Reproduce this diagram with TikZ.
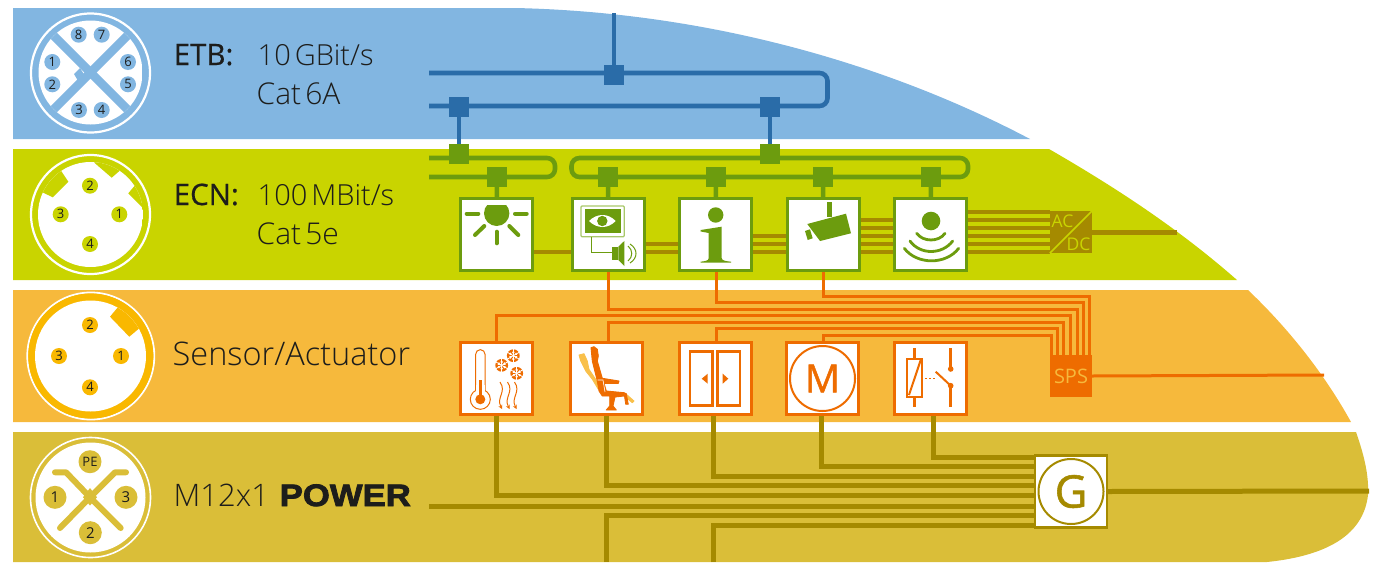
\documentclass[tikz,border=0pt]{standalone}
\usepackage{fontspec}
\usetikzlibrary{arrows.meta}
\setmainfont{Open Sans}
\newfontfamily\lightf{Open Sans Light}
\newfontfamily\boldishf[FakeBold=0.6]{Open Sans}
\newfontfamily\heavyf[FakeBold=1.2]{Open Sans}
\newfontfamily\powerf[FakeBold=2.5,FakeStretch=1.12]{Liberation Sans Bold}
\definecolor{etbbg}{HTML}{82B6E1}
\definecolor{ecnbg}{HTML}{C9D400}
\definecolor{senbg}{HTML}{F6B93C}
\definecolor{powbg}{HTML}{DABE38}
\definecolor{bluew}{HTML}{2A6CA8}
\definecolor{greenw}{HTML}{6C9C0E}
\definecolor{greenl}{HTML}{A9C86B}
\definecolor{orw}{HTML}{EE6C00}
\definecolor{orl}{HTML}{F9C04A}
\definecolor{brw}{HTML}{A58A00}
\definecolor{yel}{HTML}{F9B800}
\definecolor{txt}{HTML}{1D1D1B}
\tikzset{
  lbl/.style={anchor=base west,inner sep=0pt,text=txt,font=\fontsize{29}{32}\selectfont\lightf},
  lblb/.style={anchor=base west,inner sep=0pt,text=txt,font=\fontsize{29.5}{32}\selectfont\boldishf},
  pin/.style={circle,inner sep=0pt,minimum size=16pt,font=\fontsize{13}{14}\selectfont,text=txt},
  bigpin/.style={pin,minimum size=23pt,font=\fontsize{15}{16}\selectfont},
  tap/.style={rectangle,inner sep=0pt,minimum size=20pt},
  dev/.style={rectangle,draw,fill=white,line width=2.6pt,inner sep=0pt,minimum size=72pt},
  ecndev/.style={dev,draw=greenw},
  sendev/.style={dev,draw=orw},
  bluebus/.style={draw=bluew,line width=4.6pt},
  greenbus/.style={draw=greenw,line width=4.6pt},
  orwire/.style={draw=orw,line width=3pt},
  brw1/.style={draw=brw,line width=3.4pt},
  brw2/.style={draw=brw,line width=5pt},
  icl/.style={draw=greenw,line cap=round,line width=4pt},
  orl1/.style={draw=orw,line width=2pt},
}
\newcommand{\snowflk}[2]{%
  \fill[orw] (#1,#2) circle[radius=6.4];
  \fill[white] (#1,#2) circle[radius=4.2];
  \foreach \a in {0,60,120}{
    \draw[orw,line width=1.1pt] ([shift={(\a:-5.5)}]#1,#2) -- ([shift={(\a:5.5)}]#1,#2);}
  \foreach \a in {30,90,150}{
    \draw[white,line width=.8pt] ([shift={(\a:-7)}]#1,#2) -- ([shift={(\a:7)}]#1,#2);}
}
\newcommand{\heatw}[1]{%
  \draw[orw,line width=1pt,-{Stealth[length=4pt,width=4pt]}] (#1,382) .. controls (#1+7,392) and (#1-4,397) .. (#1+2,409);
}
\begin{document}
\begin{tikzpicture}[x=1pt,y=-1pt]
\useasboundingbox (0,0) rectangle (1375,562);
% bands
\fill[etbbg] (13,8) -- (515,8) .. controls (700,12) and (880,60) .. (1030,139) -- (13,139) -- cycle;
\fill[ecnbg] (13,149) -- (1049,149) .. controls (1120,190) and (1180,230) .. (1237,280) -- (13,280) -- cycle;
\fill[senbg] (13,290) -- (1248,290) .. controls (1290,330) and (1325,375) .. (1351,422) -- (13,422) -- cycle;
\fill[powbg] (13,432) -- (1356,432) .. controls (1364,455) and (1369,475) .. (1368,495) .. controls (1364,530) and (1335,555) .. (1267,562) -- (13,562) -- cycle;

% ETB connector
\draw[white,line width=2.2pt] (90.5,73) circle[radius=59.5];
\begin{scope}
\clip (90.5,72.5) circle[radius=52];
\fill[white] (38,20) rectangle (143,125);
\draw[etbbg,line width=8.5pt] (50,32) -- (131,113);
\draw[etbbg,line width=8.5pt] (131,32) -- (50,113);
\fill[etbbg] (80,68) -- (74,74) -- (77.5,80) -- (85,76) -- cycle;
\end{scope}
\foreach \n/\x/\y in {8/78.7/34.7,7/101.7/34.7,1/52.3/62,2/52.3/84.3,6/128/62,5/128/84.3,3/79/110,4/101.7/110}
  \node[pin,fill=etbbg] (etbp\n) at (\x,\y) {\n};

% ECN connector
\draw[white,line width=2.2pt] (90.5,214.5) circle[radius=59.5];
\begin{scope}
\clip (90.5,214.5) circle[radius=52.5];
\fill[white] (38,162) rectangle (143,267);
\fill[ecnbg] (61.7,171.7) -- (68.3,181.7) -- (52.7,197.3) -- (43.3,192.7) -- (35,180) -- (55,160) -- cycle;
\fill[ecnbg] (95,163.3) -- (111.7,177.7) -- (121.7,169) -- (118,155) -- (90,155) -- cycle;
\fill[ecnbg] (136.7,183.3) -- (128.3,193.3) -- (143.3,208.3) -- (150,200) -- (145,180) -- cycle;
\end{scope}
\foreach \n/\x/\y in {2/90/185.7,3/60.7/214.3,1/119.3/214.3,4/90/244}
  \node[pin,fill=ecnbg] (ecnp\n) at (\x,\y) {\n};

% Sensor connector
\draw[white,line width=1.8pt] (90.8,356) circle[radius=63.5];
\fill[yel] (90.8,356) circle[radius=62.5];
\begin{scope}
\clip (90.5,356) circle[radius=55.5];
\fill[white] (35,300) rectangle (146,412);
\fill[yel] (118.3,306.7) -- (110,316.7) -- (129.3,336.7) -- (139.3,328.3) -- (145,310) -- (125,295) -- cycle;
\end{scope}
\foreach \n/\x/\y in {2/90/325,3/59/356,1/121/356,4/90/387.3}
  \node[pin,fill=yel] (senp\n) at (\x,\y) {\n};

% Power connector
\draw[white,line width=1.6pt] (90.5,497.5) circle[radius=60];
\fill[white] (90.5,497.5) circle[radius=55];
\draw[powbg,line width=6pt,line cap=round,line join=round] (55,472.3) -- (66,472.3) -- (90,497.3) -- (120.7,528);
\draw[powbg,line width=6pt,line cap=round,line join=round] (126,472.3) -- (115,472.3) -- (90,497.3) -- (60,528);
\fill[powbg] (83,497.3) -- (90,488) -- (97,497.3) -- (90,505.5) -- cycle;
\node[bigpin,fill=powbg,font=\fontsize{13}{14}\selectfont] (powpe) at (90,461.7) {PE};
\node[bigpin,fill=powbg] (powp1) at (55,497.3) {1};
\node[bigpin,fill=powbg] (powp3) at (126,497.3) {3};
\node[bigpin,fill=powbg] (powp2) at (90.3,532.7) {2};

% Labels
\node[lblb] (t1) at (173.5,65) {ETB:};
\node[lbl] (t2) at (257.5,65) {10\kern4pt GBit/s};
\node[lbl,font=\fontsize{30}{32}\selectfont\lightf] (t3) at (256.5,104) {Cat\kern4pt 6A};
\node[lblb] (t4) at (173.5,205) {ECN:};
\node[lbl] (t5) at (257.5,205) {100\kern4pt MBit/s};
\node[lbl,font=\fontsize{30}{32}\selectfont\lightf] (t6) at (256.5,244) {Cat\kern4pt 5e};
\node[lbl,font=\fontsize{32.5}{34}\selectfont\lightf] (t7) at (172.5,365) {Sensor/Actuator};
\node[lbl,font=\fontsize{31}{34}\selectfont\lightf] (t8) at (173.5,506) {M12x1};
\node[anchor=base west,inner sep=0pt,text=txt,font=\fontsize{31}{34}\selectfont\powerf] (t9) at (279.5,506) {POWER};

% free ends
\coordinate (bbT) at (614,13);
\coordinate (bb1) at (429,73);
\coordinate (bbR) at (827.5,73);
\coordinate (bbS) at (827.5,106);
\coordinate (bb2) at (429,106);
\coordinate (gb1) at (429,158);
\coordinate (gbR1) at (555,158);
\coordinate (gbR2) at (555,177);
\coordinate (gb2) at (429,177);
\coordinate (gl1) at (968,158);
\coordinate (gl2) at (968,177);
\coordinate (gl3) at (571.5,177);
\coordinate (gl4) at (571.5,158);
\coordinate (acout) at (1177,232);
\coordinate (spsout) at (1324,375);
\coordinate (gout) at (1369,491);
\coordinate (pwrin) at (429,506);
\coordinate (pw1) at (606,562);
\coordinate (pw2) at (713,562);

% Nodes: taps
\node[tap,fill=bluew] (bt) at (614,75) {};
\node[tap,fill=bluew] (bl) at (459,107) {};
\node[tap,fill=bluew] (br) at (770,107) {};
\node[tap,fill=greenw] (gtl) at (459,154) {};
\node[tap,fill=greenw] (gtr) at (770,154) {};
\node[tap,fill=greenw] (g1) at (497,177) {};
\node[tap,fill=greenw] (g2) at (608,177) {};
\node[tap,fill=greenw] (g3) at (716,177) {};
\node[tap,fill=greenw] (g4) at (823,177) {};
\node[tap,fill=greenw] (g5) at (931,177) {};

% Nodes: devices
\node[ecndev] (e1) at (496.5,234.5) {};
\node[ecndev] (e2) at (608.5,234.5) {};
\node[ecndev] (e3) at (715.5,234.5) {};
\node[ecndev] (e4) at (823.5,234.5) {};
\node[ecndev] (e5) at (930.5,234.5) {};
\node[sendev] (s1) at (496.5,378.5) {};
\node[sendev] (s2) at (606.5,378.5) {};
\node[sendev] (s3) at (715.5,378.5) {};
\node[sendev] (s4) at (822.5,378.5) {};
\node[sendev] (s5) at (930.5,378.5) {};
\node[rectangle,fill=brw,minimum width=42pt,minimum height=42pt,inner sep=0pt] (acdc) at (1071,232) {};
\node[rectangle,fill=orw,minimum width=42pt,minimum height=42pt,inner sep=0pt,text=senbg,font=\fontsize{20}{20}\selectfont] (sps) at (1071,376) {SPS};
\node[rectangle,draw=brw,fill=white,line width=2.2pt,inner sep=0pt,minimum width=72pt,minimum height=72pt] (gen) at (1071,491.5) {};

% ETB bus
\draw[bluebus,rounded corners=8pt] (bb1) -- (bbR) -- (bbS) -- (bb2);
\draw[bluebus] (bbT) -- (bt);
\draw[bluebus] (bl) -- (gtl);
\draw[bluebus] (br) -- (gtr);
% ECN bus
\draw[greenbus,rounded corners=8pt] (gb1) -- (gbR1) -- (gbR2) -- (gb2);
\draw[greenbus,rounded corners=8pt] (gl1) -- (gl2) -- (gl3) -- (gl4) -- cycle;
\foreach \i in {1,...,5} \draw[greenbus] (g\i) -- (e\i);
% brown wires in ECN
\draw[brw1] (e1.east |- 0,252) -- (e2.west |- 0,252);
\foreach \y in {244,252} \draw[brw1] (e2.east |- 0,\y) -- (e3.west |- 0,\y);
\foreach \y in {236,244,252} \draw[brw1] (e3.east |- 0,\y) -- (e4.west |- 0,\y);
\foreach \y in {220,228,236,244,252} \draw[brw1] (e4.east |- 0,\y) -- (e5.west |- 0,\y);
\foreach \y in {212,220,228,236,244,252} \draw[brw1] (e5.east |- 0,\y) -- (acdc.west |- 0,\y);
\draw[brw2] (acdc.east) -- (acout);
% AC/DC face
\draw[ecnbg,line width=1.6pt] (acdc.north east) -- (acdc.south west);
\node[text=ecnbg,inner sep=0pt,font=\fontsize{17.5}{17}\selectfont] (aclab) at (1062.5,221.5) {AC};
\node[text=ecnbg,inner sep=0pt,font=\fontsize{17.5}{17}\selectfont] (dclab) at (1078.5,244.5) {DC};
% orange wires
\foreach \d/\a/\wx/\y/\x in {e4/south/823/296/1089,e3/south/716/302/1083,e2/south/608/309/1077,s1/north/496/315/1070,s2/north/608/322/1063,s3/north/716/328/1057,s4/north/823/335/1051}
  \draw[orwire] (\d.\a -| \wx,0) -- (\wx,\y) -- (\x,\y) -- (sps.north -| \x,0);
\draw[orwire] (sps.east) -- (spsout);
% brown wires in Power
\foreach \d/\wx/\y in {s1/496/495,s2/606/485,s3/713/476,s4/821/466,s5/933/457}
  \draw[brw2] (\d.south -| \wx,0) |- (gen.west |- 0,\y);
\draw[brw2] (pwrin) -- (gen.west |- pwrin);
\draw[brw2] (pw1) |- (gen.west |- 0,515);
\draw[brw2] (pw2) |- (gen.west |- 0,525);
\draw[brw2] (gen.east) -- (gout);
\node[circle,draw=brw,line width=2pt,minimum size=65pt,inner sep=0pt,text=brw,font=\fontsize{45}{45}\selectfont\heavyf] (glab) at (gen) {G};
\node[circle,draw=orw,line width=2pt,minimum size=65pt,inner sep=0pt,text=orw,font=\fontsize{39}{39}\selectfont\heavyf] (mlab) at (s4) {M};

% icon: sun
\begin{scope}
\clip (470,205.7) rectangle (525,240);
\fill[greenw] (496.7,213.3) circle[radius=12.7];
\end{scope}
\draw[icl] (466.7,213.7) -- (478.3,213.7);
\draw[icl] (515,213.7) -- (526.7,213.7);
\draw[icl] (475,235) -- (484.3,226);
\draw[icl] (518.3,235) -- (509.3,226);
\draw[icl] (496.7,231.7) -- (496.7,243.3);

% icon: monitor and speaker
\draw[greenl,line width=1.3pt,rounded corners=1pt] (581,206) rectangle (624.3,236.7);
\fill[greenw] (584.7,208.7) rectangle (621.3,233.3);
\fill[white] (589,221) .. controls (597,213) and (608,213) .. (615.7,221) .. controls (608,229) and (597,229) .. (589,221) -- cycle;
\fill[greenw] (602.3,221) circle[radius=5.2];
\draw[greenw,line width=1pt] (591.3,236.7) -- (591.3,252.7) -- (612.3,252.7);
\fill[greenw] (612.3,246.7) rectangle (618.3,260);
\fill[greenw] (618.3,246.7) -- (624.3,241) -- (624.3,266) -- (618.3,260) -- cycle;
\draw[greenw,line width=1pt] (628,246) .. controls (633,250) and (633,257) .. (628,261);
\draw[greenw,line width=1pt] (630,244) .. controls (638,249) and (638,258) .. (630,263);

% icon: info
\fill[greenw] (715.7,215) circle[radius=7.7];
\fill[greenw] (700.7,230) -- (721.7,226.7) -- (721.7,258) .. controls (722,261) and (726,261) .. (731,261.7) -- (731,262.7) -- (700.7,262.7) -- (700.7,261.7) .. controls (705,261) and (708.7,261) .. (708.7,258) -- (708.7,233) -- (700.7,231.5) -- cycle;

% icon: camera
\fill[greenw] (807.3,224) -- (846,213.7) -- (851,233.3) -- (820,241) -- cycle;
\fill[greenw] (827,202) rectangle (832,216.7);
\fill[greenw] (805,231) -- (810,229.3) -- (812.7,238.3) -- (807.7,240) -- cycle;

% icon: signal
\fill[greenw] (931,221) circle[radius=9.3];
\draw[greenw,line width=2.8pt,line cap=round] (916.7,233.3) .. controls (923,242.2) and (939,242.2) .. (945,233.3);
\draw[greenw,line width=2.8pt,line cap=round] (910,241) .. controls (920,255) and (942,255) .. (952.7,241);
\draw[greenw,line width=2.8pt,line cap=round] (904.3,248.3) .. controls (917,265) and (946,265) .. (958.7,248.3);

% icon: climate
\draw[orw,line width=1pt,rounded corners=4.5pt] (475.7,395) -- (475.7,349.7) -- (485,349.7) -- (485,395);
\draw[orw,line width=1pt,fill=white] (480.3,399.3) circle[radius=10];
\fill[white] (476.2,385) rectangle (484.5,392.5);
\draw[orw,line width=2.4pt] (480.3,380) -- (480.3,399);
\fill[orw] (480.3,399.3) circle[radius=5];
\snowflk{513.3}{355.7}
\snowflk{501.7}{365.3}
\snowflk{516.7}{373.3}
\heatw{500}
\heatw{507.5}
\heatw{514.5}

% icon: seat
\filldraw[orl,line width=.8pt,line join=round] (579,355) -- (584,353.7) -- (587.3,361) -- (589,369.3) -- (599,384.3) -- (598.3,389.3) -- (592.3,379.3) -- (585.7,371) -- (580.7,361) -- cycle;
\filldraw[orl,line width=.8pt,line join=round] (625.7,393.7) -- (634,401) -- (632.3,402.7) -- (626.3,397.7) -- cycle;
\filldraw[orw,line width=.9pt,line join=round] (591,347.7) -- (594,346.7) -- (597.3,349.3) -- (598.3,356) -- (597.3,361) -- (602.3,378.3) -- (619,381) -- (618.3,383.3) -- (604,383.3) -- (606.3,391) -- (624,392.7) -- (624,396) -- (615,397) -- (613,406) -- (616.3,410) -- (606.3,410) -- (609.7,406) -- (609.7,396) -- (602.3,396) -- (599,391) -- (597.3,381) -- (592.3,361) -- cycle;
\filldraw[orw,line width=.8pt,line join=round] (624,392.7) -- (626.3,393.7) -- (628.3,404.3) -- (625.7,404.3) -- cycle;
\draw[white,line width=.6pt] (597.5,380) -- (603,380) -- (605,392);

% icon: doors
\draw[orw,line width=2.7pt] (690,351.7) rectangle (712.7,405.3);
\draw[orw,line width=2.7pt] (717.3,351.7) rectangle (740,405.3);
\fill[orw] (701.7,378.7) -- (707.7,373.7) -- (707.7,383.7) -- cycle;
\fill[orw] (728.3,378.7) -- (722.7,373.7) -- (722.7,383.7) -- cycle;

% icon: relay
\draw[orl1] (906.7,358.7) rectangle (922.3,396.7);
\draw[orl1] (909,395) -- (920.7,360);
\draw[orl1,line width=2.6pt] (914.3,348.3) -- (914.3,358.7);
\draw[orl1,line width=2.6pt] (914.3,396.7) -- (914.3,407.3);
\draw[orl1,line width=2.6pt] (950.7,348.3) -- (950.7,369);
\draw[orl1,line width=2.6pt] (950.7,385.7) -- (950.7,407.3);
\draw[orl1] (935.7,371.7) -- (950.7,385.7);
\fill[orw] (950.7,369) circle[radius=2.8];
\fill[orw] (950.7,385.7) circle[radius=2.8];
\draw[orw,line width=1.6pt,dash pattern=on 1.8pt off 2.2pt] (925,378.3) -- (936.7,378.3);
\end{tikzpicture}
\end{document}
